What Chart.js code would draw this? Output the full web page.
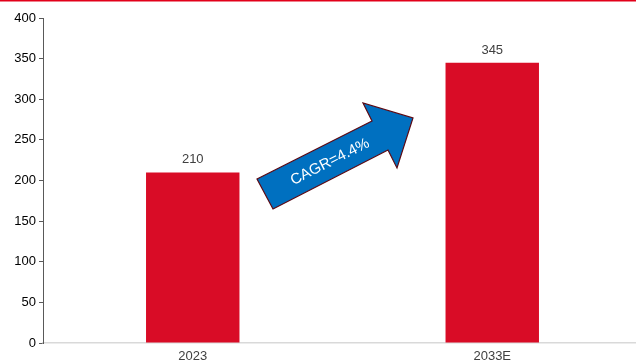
<!DOCTYPE html>
<html>
<head>
<meta charset="utf-8">
<script src="https://cdn.jsdelivr.net/npm/chart.js@4.4.1/dist/chart.umd.min.js"></script>
<style>
  html, body { margin: 0; padding: 0; background: #fff; overflow: hidden; }
  #wrap { position: relative; width: 642px; height: 363px; }
</style>
</head>
<body>
<div id="wrap"><canvas id="myChart"></canvas></div>
<script>
const years = ['2023', '2033E'];
const values = [210, 345];
const cagrText = 'CAGR=4.4%';

// red rule across the top + value labels + CAGR arrow
const extras = {
    id: 'extras',
    afterDatasetsDraw(chart) {
        const ctx = chart.ctx;
        ctx.save();
        ctx.fillStyle = '#e2001a';
        ctx.fillRect(0, 0, chart.width, 1.5);

        const meta = chart.getDatasetMeta(0);
        ctx.fillStyle = '#404040';
        ctx.font = '13px "Liberation Sans", Arial, sans-serif';
        ctx.textAlign = 'center';
        ctx.textBaseline = 'bottom';
        meta.data.forEach((bar, i) => {
            ctx.fillText(values[i], bar.x, bar.y - 6);
        });

        // arrow
        ctx.beginPath();
        ctx.moveTo(257, 179);
        ctx.lineTo(372, 121);
        ctx.lineTo(363, 103);
        ctx.lineTo(413, 118);
        ctx.lineTo(397, 168);
        ctx.lineTo(388, 150);
        ctx.lineTo(273, 209);
        ctx.closePath();
        ctx.fillStyle = '#0070c0';
        ctx.fill();
        ctx.strokeStyle = '#5c0a14';
        ctx.lineWidth = 1.2;
        ctx.stroke();

        ctx.translate(330, 162);
        ctx.rotate(-27 * Math.PI / 180);
        ctx.fillStyle = '#fff';
        ctx.font = '15px "Liberation Sans", Arial, sans-serif';
        ctx.textAlign = 'center';
        ctx.textBaseline = 'middle';
        ctx.fillText(cagrText, 0, 0);
        ctx.restore();
    }
};

let myChart = document.getElementById('myChart').getContext('2d');
let marketChart = new Chart(myChart, {
    type: 'bar',
    data: {
        labels: years,
        datasets: [{
            data: values,
            backgroundColor: '#d90c26',
            barPercentage: 0.312,
            categoryPercentage: 1.0,
        }]
    },
    options: {
        responsive: true,
        maintainAspectRatio: false,
        animation: false,
        layout: { padding: { top: 18, left: 0, right: 0, bottom: 0 } },
        plugins: {
            legend: { display: false },
            tooltip: { enabled: false }
        },
        scales: {
            x: {
                grid: { display: false, drawTicks: false },
                border: { color: '#d9d9d9', width: 1.5 },
                ticks: {
                    color: '#404040',
                    padding: 6,
                    font: { family: '"Liberation Sans", Arial, sans-serif', size: 13 }
                },
                afterFit(scale) { scale.height = 20; }
            },
            y: {
                min: 0,
                max: 400,
                grid: {
                    display: true,
                    drawOnChartArea: false,
                    drawTicks: true,
                    tickLength: 4,
                    color: '#595959'
                },
                border: { color: '#595959', width: 1 },
                ticks: {
                    stepSize: 50,
                    color: '#000',
                    padding: 3,
                    font: { family: '"Liberation Sans", Arial, sans-serif', size: 13 }
                },
                afterFit(scale) { scale.width = 43; }
            }
        }
    },
    plugins: [extras]
});
</script>
</body>
</html>
